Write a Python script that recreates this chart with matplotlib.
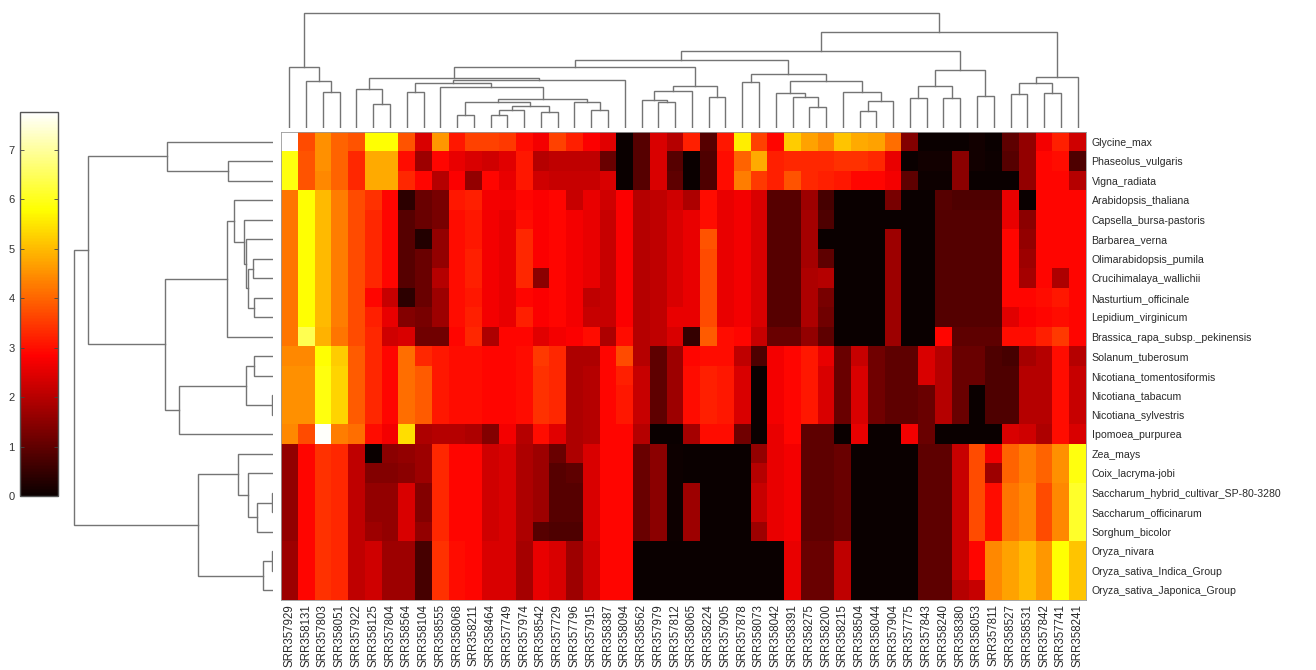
import numpy as np
import matplotlib
matplotlib.use("Agg")
import matplotlib.pyplot as plt

plt.rcParams['font.family'] = ['Liberation Sans', 'DejaVu Sans']

samples = ["SRR357929","SRR358131","SRR357803","SRR358051","SRR357922","SRR358125","SRR357804","SRR358564",
           "SRR358104","SRR358555","SRR358068","SRR358211","SRR358464","SRR357749","SRR357974","SRR358542",
           "SRR357729","SRR357796","SRR357915","SRR358387","SRR358094","SRR358562","SRR357979","SRR357812",
           "SRR358065","SRR358224","SRR357905","SRR357878","SRR358073","SRR358042","SRR358391","SRR358275",
           "SRR358200","SRR358215","SRR358504","SRR358044","SRR357904","SRR357775","SRR357843","SRR358240",
           "SRR358380","SRR358053","SRR357811","SRR358527","SRR358531","SRR357842","SRR357741","SRR358241"]
species = ["Glycine_max","Phaseolus_vulgaris","Vigna_radiata","Arabidopsis_thaliana","Capsella_bursa-pastoris",
           "Barbarea_verna","Olimarabidopsis_pumila","Crucihimalaya_wallichii","Nasturtium_officinale",
           "Lepidium_virginicum","Brassica_rapa_subsp._pekinensis","Solanum_tuberosum","Nicotiana_tomentosiformis",
           "Nicotiana_tabacum","Nicotiana_sylvestris","Ipomoea_purpurea","Zea_mays","Coix_lacryma-jobi",
           "Saccharum_hybrid_cultivar_SP-80-3280","Saccharum_officinarum","Sorghum_bicolor","Oryza_nivara",
           "Oryza_sativa_Indica_Group","Oryza_sativa_Japonica_Group"]

glycine = [7.75,3.7,4.5,4.0,3.8,5.8,5.8,3.8,2.4,4.6,3.1,3.6,3.6,3.5,3.0,2.7,3.6,3.2,2.8,2.5,0,0.9,2.4,2.0,
           3.2,0.9,3.1,5.6,3.6,2.9,5.2,4.7,4.4,5.1,4.8,4.7,4.1,1.4,0,0,0,0.1,0,1.0,1.6,2.7,3.2,2.3]
phaseolus = [5.9,3.8,4.5,4.0,3.3,4.8,4.8,3.0,1.7,2.9,2.6,2.4,2.3,2.5,3.1,2.0,2.1,2.1,2.1,1.1,0,0.9,2.4,0.9,
             0,0.8,3.0,4.0,4.8,3.2,3.3,3.3,3.3,3.4,3.4,3.3,2.6,0,0.1,0.1,1.5,0.1,0.05,0.9,1.6,2.9,3.0,0.8]
vigna = [5.9,3.8,4.4,4.0,3.3,4.8,4.8,3.3,2.9,2.0,2.8,1.6,2.9,2.6,3.1,2.3,2.2,2.2,2.2,2.4,0,0.9,2.4,1.0,
         0,0.8,3.0,4.3,3.5,3.2,3.8,3.3,3.2,3.1,2.9,2.9,2.7,1.0,0.05,0.05,1.5,0,0,0,1.6,2.9,2.9,2.0]
arabidopsis = [4.2,5.8,5.0,4.3,3.7,3.4,2.9,0.4,1.1,1.3,3.1,3.2,2.7,2.7,2.9,2.8,2.9,2.2,2.6,2.3,2.8,2.0,2.1,2.3,
               1.9,3.0,2.6,2.7,2.4,0.9,0.9,1.7,0.7,0,0,0,1.3,0,0,0.9,0.8,0.8,0.8,2.6,0,2.9,2.9,2.9]
capsella = [4.2,5.8,5.0,4.3,3.7,3.3,2.9,0.9,1.1,1.3,3.0,3.1,2.7,2.6,3.0,2.8,2.9,2.7,2.6,2.2,2.8,2.0,2.1,2.4,
            2.6,3.0,2.6,2.7,2.4,0.9,0.9,1.8,0.8,0,0,0,0,0,0,0.85,0.85,0.85,0.85,2.6,1.5,2.9,2.9,2.9]
barbarea = [4.2,5.8,5.0,4.3,3.7,3.3,2.9,0.9,0.3,1.6,3.0,3.1,2.7,2.6,3.3,2.8,2.9,2.7,2.6,2.2,2.8,2.0,2.1,2.4,
            2.6,3.8,2.6,2.7,2.4,0.9,0.9,1.8,0,0,0,0,1.7,0,0,0.85,0.85,0.85,0.85,2.9,1.6,2.9,2.9,2.9]
olimarabidopsis = [4.2,5.8,5.0,4.3,3.7,3.3,2.9,0.9,1.1,1.6,3.0,3.2,2.7,2.6,3.3,2.8,2.9,2.7,2.6,2.2,2.8,2.0,2.1,2.4,
                   2.6,3.7,2.6,2.7,2.4,0.9,0.9,1.8,1.0,0,0,0,1.7,0,0,0.85,0.85,0.85,0.85,2.9,1.7,2.9,2.9,2.9]
crucihimalaya = [4.2,5.8,5.0,4.3,3.7,3.3,2.9,0.9,1.1,2.0,3.0,3.2,2.7,2.6,3.3,1.5,2.9,2.7,2.6,2.2,2.8,2.0,2.1,2.4,
                 2.6,3.7,2.6,2.7,2.4,0.9,0.9,1.9,2.0,0,0,0,1.7,0,0,0.85,0.85,0.85,0.85,2.9,1.8,2.9,1.9,2.9]
nasturtium = [4.2,5.8,5.0,4.3,3.7,2.9,2.2,0.4,1.1,1.7,3.0,3.1,2.7,2.6,2.9,2.8,2.9,2.7,2.1,2.2,2.8,2.0,2.1,2.4,
              2.6,3.7,2.6,2.7,2.4,0.9,0.9,1.9,1.3,0,0,0,1.7,0,0,0.85,0.85,0.85,0.85,2.9,2.9,3.0,3.1,2.9]
lepidium = [4.2,5.8,5.0,4.3,3.7,3.2,2.6,1.4,1.3,1.7,3.0,3.2,2.7,2.6,3.2,2.8,2.9,2.7,2.2,2.2,2.8,2.0,2.1,2.6,
            2.6,3.7,2.6,2.7,2.4,0.9,0.9,1.9,1.2,0,0,0,1.7,0,0,0.85,0.85,0.85,0.85,2.5,2.8,2.9,3.0,2.9]
brassica = [4.2,6.4,4.9,4.2,3.7,3.3,2.3,2.4,1.2,1.2,2.9,3.3,1.9,2.9,2.9,2.5,2.7,2.8,3.0,1.9,3.0,2.0,2.1,2.4,
            0.5,3.9,3.0,2.9,2.2,1.1,1.1,1.6,1.0,0,0,0,1.7,0,0,2.9,1.0,1.0,1.0,3.0,3.0,3.2,3.5,2.9]
solanum = [4.4,4.4,5.8,5.2,3.9,3.3,2.9,4.1,3.3,3.1,3.0,3.0,2.9,2.9,3.0,3.5,3.3,1.9,1.9,2.9,3.7,2.0,1.0,1.7,
           2.9,3.0,3.0,2.1,0.8,2.7,2.9,3.1,2.6,1.1,2.2,1.2,1.0,1.0,2.4,2.0,1.1,1.1,0.8,0.7,1.8,2.0,3.0,2.0]
tomentosiformis = [4.5,4.5,5.9,5.3,3.9,3.3,2.9,4.1,3.9,3.1,3.0,3.0,2.9,2.9,3.0,3.4,3.3,1.9,2.0,2.9,3.2,2.2,1.0,1.7,
                   3.0,3.2,3.1,2.4,0,2.7,2.9,3.1,2.4,1.1,2.4,1.2,1.0,1.0,2.4,2.0,1.1,1.1,0.8,0.8,2.0,2.0,3.0,2.2]
tabacum = [4.5,4.5,5.9,5.3,3.9,3.3,2.9,4.1,3.9,3.1,3.0,3.0,2.9,2.9,3.0,3.4,3.3,1.9,2.0,2.9,3.1,2.2,1.0,1.7,
           3.0,3.2,3.1,2.4,0,2.7,2.9,3.1,2.4,1.1,2.4,1.2,1.0,1.0,1.1,2.0,1.1,0,0.8,0.8,2.0,2.0,3.0,2.2]
sylvestris = [4.5,4.5,5.9,5.3,3.9,3.3,2.9,4.1,3.9,3.1,3.0,3.0,2.9,2.9,3.0,3.4,3.3,1.9,2.0,2.9,3.1,2.2,1.0,1.7,
              3.0,3.2,3.1,2.4,0,2.7,2.9,3.1,2.4,1.1,2.4,1.2,1.0,1.0,1.1,2.0,1.1,0,0.8,0.8,2.0,2.0,3.0,2.2]
ipomoea = [4.4,3.7,7.7,4.3,4.1,3.0,2.7,5.4,1.9,2.0,2.0,1.9,1.4,2.7,2.0,3.0,2.5,1.9,2.0,2.9,2.9,2.0,0,0,
           1.8,3.0,3.0,1.2,0,2.6,2.9,1.0,1.0,0,2.6,0,0,2.7,1.1,0,0,0,0,2.4,2.3,1.9,3.0,2.4]
zea = [1.6,2.9,3.4,3.3,2.1,0,1.5,1.6,1.7,3.3,2.9,2.9,2.3,2.4,1.9,1.7,1.1,1.9,2.4,2.9,2.9,1.1,1.5,0.05,
       0,0,0,0,1.6,2.6,2.7,1.0,1.0,1.1,0,0,0,0,1.0,1.0,2.2,3.7,2.7,4.0,4.3,4.0,4.5,5.9]
coix = [1.6,2.9,3.4,3.3,2.1,1.4,1.4,1.5,1.7,3.3,2.9,2.9,2.3,2.4,1.9,1.7,0.9,1.0,2.4,2.9,2.9,1.1,1.5,0.05,
        0,0,0,0,2.0,2.6,2.7,1.0,1.0,1.1,0,0,0,0,1.0,1.0,2.2,3.7,1.7,4.0,4.3,4.0,4.5,5.9]
sac_hybrid = [1.6,2.9,3.4,3.3,2.1,1.6,1.6,2.4,1.4,3.3,2.9,2.9,2.3,2.4,1.9,1.7,0.9,0.9,2.4,2.9,2.9,1.1,1.5,0.05,
              1.7,0,0,0,2.2,2.6,2.7,1.0,1.0,1.1,0,0,0,0,1.0,1.0,2.2,3.7,3.0,4.2,4.4,3.7,4.4,6.1]
sac_officinarum = [1.6,2.9,3.4,3.3,2.1,1.6,1.6,2.4,1.4,3.3,2.9,2.9,2.3,2.4,1.9,1.7,0.9,0.9,2.4,2.9,2.9,1.1,1.5,0.05,
                   1.7,0,0,0,2.2,2.6,2.7,1.0,1.0,1.1,0,0,0,0,1.0,1.0,2.2,3.7,3.0,4.2,4.4,3.7,4.4,6.1]
sorghum = [1.6,2.9,3.4,3.3,2.1,1.7,1.6,2.4,1.6,3.3,2.9,2.9,2.3,2.4,1.9,0.9,0.8,0.8,2.4,2.9,2.9,1.1,1.5,0.05,
           1.7,0,0,0,1.7,2.6,2.7,1.0,1.0,1.1,0,0,0,0,1.0,1.0,2.2,3.7,3.0,4.2,4.4,3.7,4.4,6.1]
nivara = [1.7,2.9,3.4,3.3,2.1,2.3,1.7,1.7,0.7,3.4,3.0,2.9,2.4,2.4,1.8,2.6,2.4,1.7,2.3,2.9,2.9,0,0,0,
          0,0,0,0,0,0,2.6,1.1,1.1,2.1,0,0,0,0,1.0,1.0,2.2,2.9,4.4,4.7,5.0,4.6,5.8,5.1]
indica = [1.7,2.9,3.4,3.3,2.1,2.3,1.7,1.7,0.7,3.4,3.0,2.9,2.4,2.4,1.8,2.6,2.4,1.7,2.3,2.9,2.9,0,0,0,
          0,0,0,0,0,0,2.6,1.1,1.1,2.1,0,0,0,0,1.0,1.0,2.2,2.9,4.4,4.7,5.0,4.6,5.8,5.1]
japonica = [1.7,2.9,3.4,3.3,2.1,2.3,1.7,1.7,0.7,3.4,3.0,2.9,2.4,2.4,1.8,2.6,2.4,1.7,2.3,2.9,2.9,0,0,0,
            0,0,0,0,0,0,2.6,1.1,1.1,2.1,0,0,0,0,1.0,1.0,2.0,2.2,4.4,4.7,5.0,4.6,5.8,5.1]

values = np.array([glycine, phaseolus, vigna, arabidopsis, capsella, barbarea, olimarabidopsis, crucihimalaya,
                   nasturtium, lepidium, brassica, solanum, tomentosiformis, tabacum, sylvestris, ipomoea,
                   zea, coix, sac_hybrid, sac_officinarum, sorghum, nivara, indica, japonica])

# Dendrograms: (height, left, right); integers are leaves
col_g1 = (61, 0, (47, 1, (36, 2, 3)))
col_g2 = (39, 4, (24, 5, 6))
col_g3 = (29, (26, (13, 10, 11), (22, (18, (13, 12, 13), 14), (16, 15, 16))), (26, 17, (18, 18, 19)))
col_g4 = (48, (45, (36, 7, 8), (41, 9, col_g3)), 20)
col_g5 = (42, (37, (28, 21, (26, 22, 23)), 24), (31, 25, 26))
col_g6 = (54, (46, 27, 28), (47, (35, 29, (31, 30, (21, 31, 32))), (36, 33, (27, (17, 34, 35), 36))))
col_g7 = (58, (42, (30, 37, 38), (30, 39, 40)), (32, 41, 42))
col_g8 = (51, (45, (34, 43, 44), (35, 45, 46)), 47)
col_tree = (115, col_g1, (96, (77, (68, (61, (50, col_g2, col_g4), col_g5), col_g6), col_g7), col_g8))

row_g1 = (106, 0, (45, 1, 2))
row_g2 = (46, (39, 3, (29, 4, (27, 5, (25, (20, 6, 7), (19, 8, 9))))), 10)
row_g3 = (94, (27, (19, 11, 12), (1, 13, 14)), 15)
row_g4 = (35, 16, (25, 17, (16, (1, 18, 19), 20)))
row_g5 = (10, (1, 21, 22), 23)
row_tree = (199, (185, row_g1, (108, row_g2, row_g3)), (75, row_g4, row_g5))

W, H = 1316, 670
line_col = '#747474'


def axes_px(fig, x0, y0, x1, y1):
    return fig.add_axes([x0 / W, 1 - y1 / H, (x1 - x0) / W, (y1 - y0) / H])


def draw_tree(ax, node, vertical):
    if not isinstance(node, tuple):
        return node + 0.5, 0
    h, a, b = node
    pa, ha = draw_tree(ax, a, vertical)
    pb, hb = draw_tree(ax, b, vertical)
    p = [pa, pa, pb, pb]
    q = [ha, h, h, hb]
    if vertical:
        ax.plot(p, q, color=line_col, lw=1.0, solid_joinstyle='miter')
    else:
        ax.plot(q, p, color=line_col, lw=1.0, solid_joinstyle='miter')
    return (pa + pb) / 2, h


fig = plt.figure(figsize=(W / 100, H / 100), dpi=100, facecolor='white')

# Heatmap
ax = axes_px(fig, 281, 132, 1086, 600)
im = ax.imshow(values, cmap='hot', vmin=0, vmax=7.76, aspect='auto', interpolation='nearest',
               extent=(0, 48, 24, 0))
ax.set_xticks(np.arange(48) + 0.5)
ax.set_xticklabels(samples, rotation=90, fontsize=8.3, color='#2a2a2a')
ax.set_yticks(np.arange(24) + 0.5)
ax.set_yticklabels(species, fontsize=7.6, color='#2a2a2a')
ax.yaxis.tick_right()
ax.tick_params(axis='x', length=0, pad=3)
ax.tick_params(axis='y', length=0, pad=4)
for s in ax.spines.values():
    s.set_linewidth(0.6)
    s.set_color('#999999')

# Top dendrogram
top = axes_px(fig, 281, 0, 1086, 128)
draw_tree(top, col_tree, True)
top.set_xlim(0, 48)
top.set_ylim(0, 128)
top.axis('off')

# Left dendrogram
left = axes_px(fig, 0, 132, 273, 600)
draw_tree(left, row_tree, False)
left.set_xlim(273, 0)
left.set_ylim(24, 0)
left.axis('off')

# Colourbar
cax = axes_px(fig, 20, 112, 58, 496)
cb = fig.colorbar(im, cax=cax, orientation='vertical', ticklocation='left')
cb.set_ticks(range(8))
cb.ax.tick_params(labelsize=8, length=3, width=0.6, direction='in', pad=4, color='#444444',
                  labelcolor='#333333', left=True, right=True)
cb.outline.set_edgecolor('#555555')
cb.outline.set_linewidth(1.0)

fig.savefig('out.png', dpi=100)
